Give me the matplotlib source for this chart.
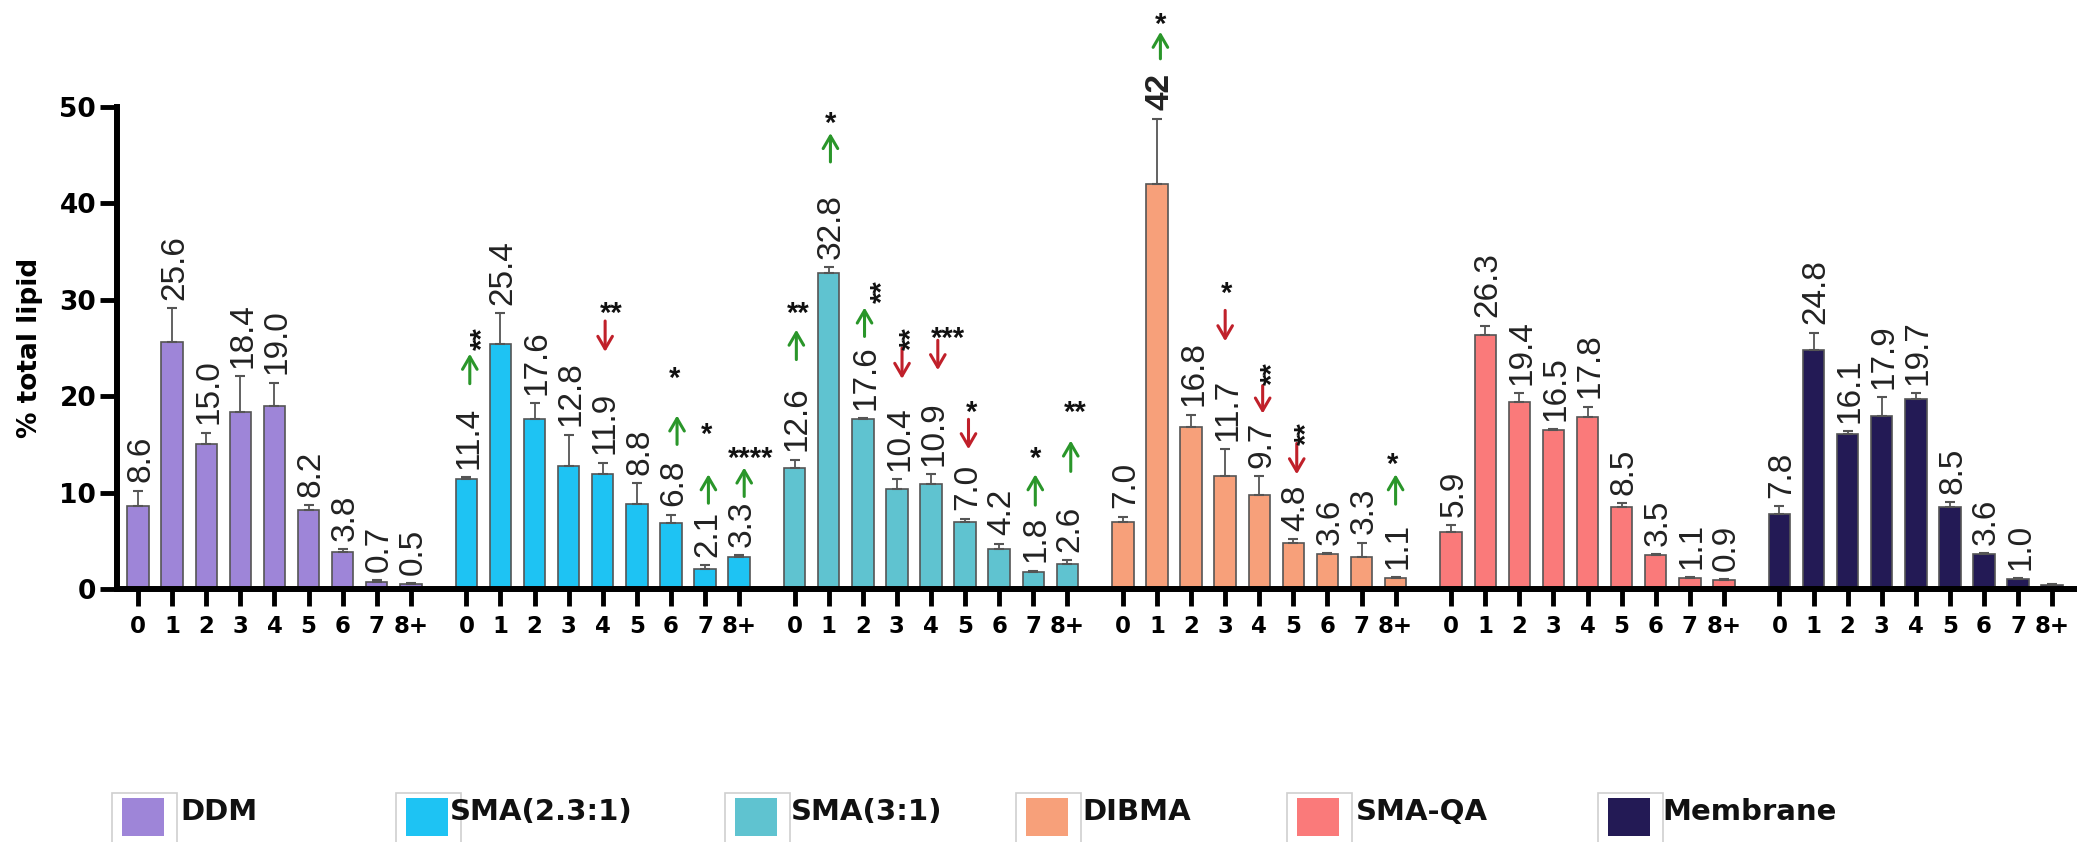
import numpy as np
import matplotlib
matplotlib.use("Agg")
import matplotlib.pyplot as plt
from matplotlib.patches import Rectangle

# ---------------- data ----------------
groups = ["DDM", "SMA(2.3:1)", "SMA(3:1)", "DIBMA", "SMA-QA", "Membrane"]
chain_labels = ["0", "1", "2", "3", "4", "5", "6", "7", "8+"]

ddm      = [8.6, 25.6, 15.0, 18.4, 19.0, 8.2, 3.8, 0.7, 0.5]
sma_23   = [11.4, 25.4, 17.6, 12.8, 11.9, 8.8, 6.8, 2.1, 3.3]
sma_31   = [12.6, 32.8, 17.6, 10.4, 10.9, 7.0, 4.2, 1.8, 2.6]
dibma    = [7.0, 42.0, 16.8, 11.7, 9.7, 4.8, 3.6, 3.3, 1.1]
sma_qa   = [5.9, 26.3, 19.4, 16.5, 17.8, 8.5, 3.5, 1.1, 0.9]
membrane = [7.8, 24.8, 16.1, 17.9, 19.7, 8.5, 3.6, 1.0, 0.4]

ddm_err      = [1.6, 3.5, 1.2, 3.7, 2.4, 0.5, 0.3, 0.2, 0.1]
sma_23_err   = [0.2, 3.2, 1.7, 3.2, 1.2, 2.2, 0.9, 0.4, 0.2]
sma_31_err   = [0.8, 0.6, 0.1, 1.0, 1.0, 0.3, 0.5, 0.1, 0.4]
dibma_err    = [0.5, 6.8, 1.3, 2.8, 2.0, 0.4, 0.1, 1.5, 0.1]
sma_qa_err   = [0.7, 1.0, 0.9, 0.1, 1.1, 0.4, 0.1, 0.1, 0.1]
membrane_err = [0.8, 1.8, 0.3, 2.0, 0.6, 0.5, 0.1, 0.1, 0.1]

colors = ["#9e85d8", "#1ec3f3", "#5fc3d0", "#f7a07a", "#fa7a7a", "#231a55"]

# significance marks: group, bar, direction, arrow low, arrow high, stars, star y, rotated
sig_group = [1, 1, 1, 1, 1, 2, 2, 2, 2, 2, 2, 2, 2, 3, 3, 3, 3, 3]
sig_bar   = [0, 4, 6, 7, 8, 0, 1, 2, 3, 4, 5, 7, 8, 1, 3, 4, 5, 8]
sig_dir   = ["up", "down", "up", "up", "up", "up", "up", "up", "down", "down",
             "down", "up", "up", "up", "down", "down", "down", "up"]
sig_lo    = [21.3, 24.6, 15.0, 8.9, 9.6, 23.8, 44.3, 26.2, 21.8, 22.7,
             14.5, 8.7, 12.2, 55.0, 25.7, 18.2, 11.9, 8.8]
sig_hi    = [24.4, 27.8, 18.0, 11.9, 12.6, 26.9, 47.3, 29.2, 25.0, 25.8,
             17.6, 11.9, 15.4, 57.8, 28.9, 21.1, 15.1, 11.9]
sig_stars = ["**", "**", "*", "*", "****", "**", "*", "**", "**", "***",
             "*", "*", "**", "*", "*", "**", "**", "*"]
sig_star_y = [26.0, 29.5, 22.8, 17.0, 14.5, 29.5, 49.2, 30.8, 26.0, 26.9,
              19.3, 14.5, 19.3, 59.5, 31.6, 22.3, 16.1, 13.9]
sig_rot   = [True, False, False, False, False, False, False, True, True, False,
             False, False, False, False, False, True, True, False]
sig_arrow_dx = [0.1, 0.07, 0.18, 0.1, 0.15, 0.05, 0.05, 0.05, 0.15, 0.2,
                0.1, 0.06, 0.1, 0.1, 0.0, 0.1, 0.1, 0.0]
sig_star_dx  = [0.2, 0.26, 0.1, 0.05, 0.35, 0.1, 0.05, 0.3, 0.15, 0.5,
                0.18, 0.06, 0.23, 0.1, 0.05, 0.1, 0.1, -0.1]

values = [ddm, sma_23, sma_31, dibma, sma_qa, membrane]
errors = [ddm_err, sma_23_err, sma_31_err, dibma_err, sma_qa_err, membrane_err]

# ---------------- layout ----------------
W, H = 2077, 842
stride = 9.63
green = "#2a962a"
red = "#c0202a"

fig = plt.figure(figsize=(W / 100, H / 100), dpi=100)
ax = fig.add_axes([117 / W, (H - 589) / H, 1 - 117 / W, (589 - 107) / H])

ticks = []
for g in range(len(groups)):
    x = g * stride + np.arange(len(chain_labels))
    ticks.extend(x)
    ax.bar(x, values[g], width=0.63, color=colors[g], edgecolor="#555555",
           linewidth=1.2, zorder=2)
    ax.errorbar(x, values[g], yerr=[np.zeros(len(x)), errors[g]], fmt="none",
                ecolor="#555555", elinewidth=1.3, capsize=3.5, capthick=1.5, zorder=3)
    for i, (v, e) in enumerate(zip(values[g], errors[g])):
        if g == 5 and i == 8:
            continue
        if g == 3 and i == 1:
            txt, wt = "42", "bold"
        else:
            txt, wt = "%.1f" % v, "normal"
        ax.annotate(txt, (x[i] + 0.08, v + e), xytext=(0, 6), textcoords="offset points",
                    rotation=90, ha="center", va="bottom", fontsize=24, fontweight=wt,
                    family="Liberation Sans", color="#222222", annotation_clip=False)

for k in range(len(sig_group)):
    xb = sig_group[k] * stride + sig_bar[k]
    c = green if sig_dir[k] == "up" else red
    if sig_dir[k] == "up":
        tail, head = sig_lo[k], sig_hi[k]
    else:
        tail, head = sig_hi[k], sig_lo[k]
    xa = xb + sig_arrow_dx[k]
    ax.annotate("", xy=(xa, head), xytext=(xa, tail), annotation_clip=False,
                arrowprops=dict(arrowstyle="->,head_length=0.6,head_width=0.35",
                                lw=2.2, color=c, shrinkA=0, shrinkB=0, mutation_scale=15))
    xs = xb + sig_star_dx[k]
    if sig_rot[k]:
        off, rot = (7, 0), 90
    else:
        off, rot = (0, -7), 0
    ax.annotate(sig_stars[k], (xs, sig_star_y[k]), xytext=off, textcoords="offset points",
                rotation=rot, ha="center", va="center", fontsize=21, fontweight="bold",
                family="Liberation Sans", color="#111111", annotation_clip=False)

ax.set_xlim(-0.62, 5 * stride + 8 + 0.73)
ax.set_ylim(0, 50)
ax.set_xticks(ticks)
ax.set_xticklabels(chain_labels * len(groups), fontsize=16.5, fontweight="bold")
ax.set_yticks([0, 10, 20, 30, 40, 50])
ax.set_yticklabels(["0", "10", "20", "30", "40", "50"], fontsize=19, fontweight="bold")
ax.tick_params(axis="x", length=12, width=3.5, pad=7)
ax.tick_params(axis="y", length=12, width=3.5, pad=3)
ax.spines["top"].set_visible(False)
ax.spines["right"].set_visible(False)
ax.spines["left"].set_linewidth(4.3)
ax.spines["bottom"].set_linewidth(4.3)
ax.set_ylabel("% total lipid", fontsize=19, fontweight="bold", labelpad=12)

# legend drawn in figure pixels
patch_left = [122, 406, 735, 1026, 1297, 1608]
text_left = [180, 450, 791, 1082, 1356, 1662]
for g in range(len(groups)):
    px = patch_left[g]
    fig.patches.append(Rectangle(((px - 10) / W, (H - 846) / H), 65 / W, 53 / H,
                                 transform=fig.transFigure, facecolor="white",
                                 edgecolor="#cfcfcf", linewidth=1.2))
    fig.patches.append(Rectangle((px / W, (H - 836) / H), 42 / W, 38 / H,
                                 transform=fig.transFigure, facecolor=colors[g],
                                 edgecolor="none"))
    fig.text(text_left[g] / W, (H - 820) / H, groups[g], fontsize=21, fontweight="bold",
             ha="left", va="baseline", color="#111111")

fig.savefig("out.png", dpi=100)
